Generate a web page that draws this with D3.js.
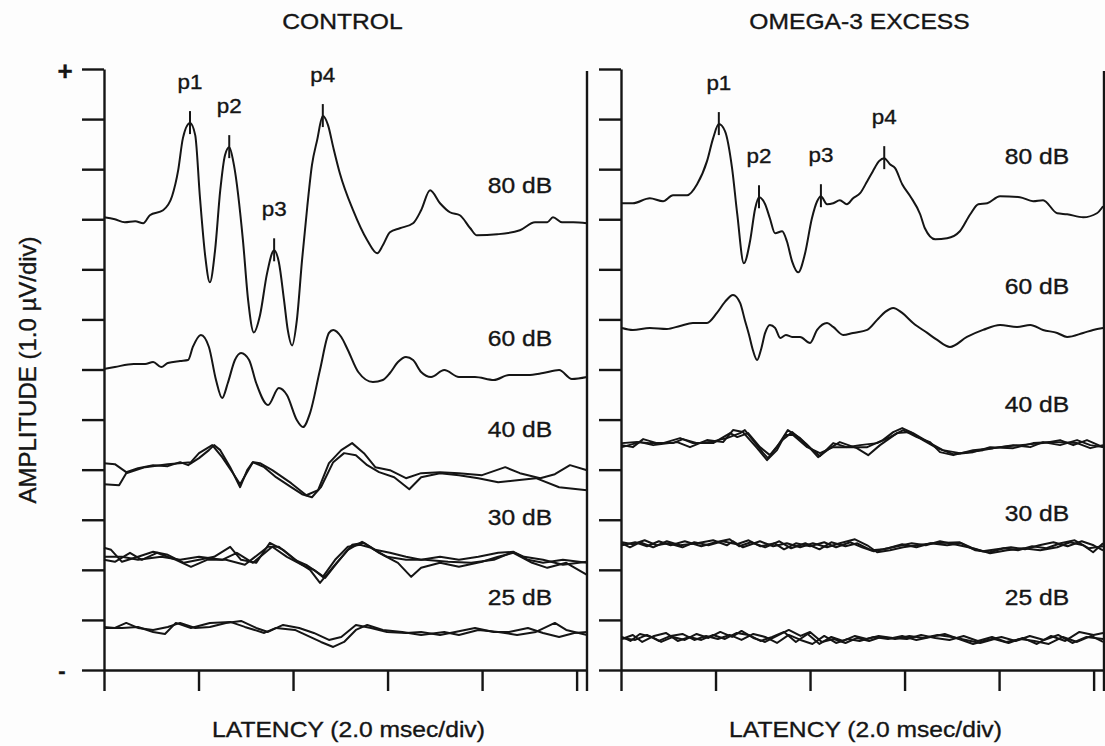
<!DOCTYPE html>
<html>
<head>
<meta charset="utf-8">
<script src="https://cdn.jsdelivr.net/npm/d3@7"></script>
<style>
  body { margin: 0; background: #fdfdfd; }
  text { font-family: "Liberation Sans", Arial, Helvetica, sans-serif; fill: #151515; stroke: #151515; stroke-width: 0.35px; }
</style>
</head>
<body>
<div id="chart"></div>
<script>
// latency (ms) vs amplitude (uV, relative to each trace's own baseline)
var levels = ["80 dB", "60 dB", "40 dB", "30 dB", "25 dB"];
var ctlOffsets = [9.0, 6.05, 4.05, 2.24, 0.84];
var omgOffsets = [9.36, 6.83, 4.49, 2.51, 0.64];
var ctlLabelY = [9.52, 6.47, 4.65, 2.89, 1.30];
var omgLabelY = [10.10, 7.50, 5.15, 2.97, 1.30];

var peakNames = ["p1", "p2", "p3", "p4"];
var ctlPeaks = [1.82, 2.65, 3.60, 4.63];
var omgPeaks = [2.07, 2.92, 4.23, 5.57];

var xTicks = [0, 2, 4, 6, 8, 10];
var yTicks = d3.range(0, 13);

var ctl80 = [[0,0.04],[0.23,0],[0.44,-0.06],[0.66,-0.04],[0.83,-0.08],[0.97,0.08],[1.25,0.18],[1.44,0.46],[1.57,0.98],[1.67,1.62],[1.82,1.92],[1.93,1.68],[2.03,0.44],[2.14,-0.72],[2.24,-1.26],[2.35,-0.62],[2.46,0.58],[2.56,1.28],[2.65,1.44],[2.75,1.08],[2.94,-0.42],[3.05,-1.62],[3.17,-2.26],[3.30,-1.92],[3.45,-1.08],[3.60,-0.62],[3.70,-0.86],[3.81,-1.62],[3.89,-2.22],[3.98,-2.52],[4.08,-2.02],[4.19,-0.82],[4.30,0.24],[4.40,1.08],[4.51,1.58],[4.63,2.06],[4.74,1.88],[4.85,1.44],[4.99,0.92],[5.27,0.18],[5.57,-0.42],[5.78,-0.68],[5.90,-0.52],[6.05,-0.26],[6.26,-0.18],[6.54,-0.08],[6.71,0.18],[6.90,0.58],[7.11,0.32],[7.32,0.14],[7.53,0.08],[7.75,-0.18],[7.89,-0.32],[8.32,-0.30],[8.80,-0.22],[9.12,-0.06],[9.38,-0.06],[9.50,0.04],[9.69,-0.06],[9.93,-0.06],[10.22,-0.08]];

var ctl60 = [[0,-0.04],[0.23,0],[0.63,0.06],[0.87,0.06],[1.04,0.10],[1.21,0],[1.35,0.08],[1.61,0.12],[1.78,0.14],[1.88,0.40],[2.05,0.64],[2.22,0.40],[2.37,-0.26],[2.50,-0.62],[2.62,-0.32],[2.77,0.14],[2.90,0.28],[3.07,0.14],[3.22,-0.32],[3.47,-0.76],[3.70,-0.42],[3.87,-0.56],[4.08,-1.06],[4.21,-1.20],[4.36,-0.92],[4.57,-0.06],[4.76,0.68],[4.85,0.74],[5.02,0.60],[5.16,0.34],[5.38,-0.10],[5.69,-0.30],[5.90,-0.26],[6.05,-0.12],[6.22,0.10],[6.39,0.20],[6.54,0.14],[6.71,-0.10],[6.92,-0.20],[7.20,-0.06],[7.51,-0.20],[7.85,-0.20],[8.25,-0.26],[8.57,-0.16],[8.97,-0.16],[9.29,-0.12],[9.63,-0.06],[9.90,-0.24],[10.22,-0.20]];

var ctl40 = [
  [[0,0.08],[0.23,0.06],[0.47,-0.10],[0.72,-0.02],[1.04,0.04],[1.35,0.02],[1.61,0.10],[1.78,0.04],[2.01,0.18],[2.22,0.34],[2.33,0.44],[2.46,0.34],[2.67,0],[2.88,-0.40],[3.03,-0.06],[3.15,0.10],[3.39,0],[3.64,-0.20],[3.96,-0.40],[4.19,-0.54],[4.40,-0.60],[4.59,-0.40],[4.85,0.10],[5.08,0.28],[5.33,0.24],[5.57,0.04],[5.82,-0.10],[6.14,-0.20],[6.46,-0.44],[6.71,-0.20],[7.11,-0.12],[7.51,-0.16],[7.92,-0.22],[8.34,-0.30],[8.74,-0.26],[9.14,-0.22],[9.63,-0.40],[10.22,-0.46]],
  [[0,-0.34],[0.32,-0.36],[0.47,-0.12],[0.87,0],[1.35,0.06],[1.84,0.10],[2.01,0.28],[2.29,0.44],[2.50,0.20],[2.73,-0.12],[2.88,-0.34],[3.15,0.10],[3.30,0.08],[3.56,-0.06],[3.96,-0.32],[4.28,-0.56],[4.53,-0.46],[4.76,0.08],[5.02,0.34],[5.25,0.48],[5.50,0.28],[5.74,0],[6.05,-0.06],[6.39,-0.22],[6.71,-0.12],[7.11,-0.10],[7.51,-0.12],[8.00,-0.16],[8.49,0],[8.80,-0.12],[9.23,-0.22],[9.54,-0.14],[9.86,0.04],[10.22,-0.06]]
];

var ctl30 = [
  [[0,0.20],[0.15,0.16],[0.38,-0.08],[0.72,0.02],[1.04,0.12],[1.35,0.06],[1.69,-0.10],[2.01,-0.04],[2.33,0.02],[2.67,0.22],[2.90,-0.04],[3.22,-0.10],[3.51,0.30],[3.79,0.16],[4.13,-0.10],[4.36,-0.24],[4.57,-0.50],[4.85,-0.18],[5.16,0.16],[5.46,0.32],[5.74,0.16],[6.05,0.10],[6.39,0.02],[6.71,-0.04],[7.11,0.02],[7.51,-0.04],[7.92,0.02],[8.34,0.10],[8.66,0.12],[8.97,-0.04],[9.29,-0.10],[9.71,-0.04],[10.22,-0.10]],
  [[0,-0.04],[0.23,-0.08],[0.55,0.10],[0.80,-0.04],[1.12,0.10],[1.52,-0.04],[1.84,-0.18],[2.18,-0.04],[2.58,-0.04],[2.98,-0.14],[3.47,0.22],[3.70,0.22],[4.04,-0.04],[4.28,-0.14],[4.53,-0.30],[4.68,-0.40],[4.93,-0.10],[5.25,0.26],[5.50,0.30],[5.82,0.10],[6.22,-0.10],[6.50,-0.38],[6.71,-0.20],[7.11,-0.10],[7.51,-0.18],[8.00,-0.08],[8.34,0.02],[8.66,0.10],[9.06,-0.10],[9.38,-0.20],[9.78,-0.10],[10.22,-0.34]],
  [[0,0.02],[0.38,0.02],[0.72,-0.04],[1.21,0.02],[1.61,-0.04],[2.01,0.02],[2.50,-0.04],[2.81,0.10],[3.15,-0.10],[3.56,0.22],[3.87,0.02],[4.19,-0.14],[4.44,-0.24],[4.63,-0.38],[4.89,-0.04],[5.16,0.22],[5.42,0.26],[5.65,0.20],[5.99,0.02],[6.39,-0.04],[6.79,-0.04],[7.28,-0.08],[7.77,-0.10],[8.25,-0.04],[8.66,0.12],[8.89,0.02],[9.29,-0.04],[9.71,-0.14],[10.22,-0.08]]
];

var ctl25 = [
  [[0,0.02],[0.23,0],[0.47,0.10],[0.72,0],[1.04,-0.04],[1.35,0.02],[1.61,0.10],[1.93,0],[2.24,0.02],[2.58,0.10],[2.90,0.14],[3.22,0],[3.47,-0.08],[3.79,0.06],[4.13,0],[4.44,-0.10],[4.76,-0.24],[5.02,-0.18],[5.33,0.06],[5.65,0],[5.99,-0.08],[6.39,-0.10],[6.71,-0.08],[7.11,-0.14],[7.43,-0.08],[7.85,0],[8.25,-0.08],[8.57,-0.08],[8.97,0],[9.29,-0.10],[9.63,-0.18],[9.95,-0.10],[10.22,-0.08]],
  [[0,0],[0.38,0],[0.72,0.02],[1.04,-0.08],[1.29,-0.12],[1.52,0.10],[1.84,0],[2.24,0.10],[2.67,0.12],[2.98,0.02],[3.39,-0.10],[3.64,0],[4.04,-0.04],[4.36,-0.18],[4.59,-0.28],[4.85,-0.38],[5.08,-0.28],[5.33,-0.04],[5.57,0.06],[5.90,-0.04],[6.31,-0.08],[6.71,-0.14],[7.20,-0.08],[7.51,-0.14],[7.92,-0.04],[8.34,-0.08],[8.74,-0.14],[9.14,-0.08],[9.54,0.10],[9.78,-0.04],[10.22,-0.14]]
];

var omg80 = [[0.02,-0.04],[0.25,-0.04],[0.61,0.06],[0.89,0],[1.10,0.12],[1.40,0.12],[1.61,0.34],[1.82,0.80],[1.95,1.26],[2.07,1.54],[2.20,1.40],[2.35,0.66],[2.46,-0.26],[2.60,-1.24],[2.73,-0.80],[2.84,-0.14],[2.92,0.08],[3.05,-0.06],[3.15,-0.34],[3.26,-0.64],[3.41,-0.60],[3.51,-0.80],[3.62,-1.20],[3.75,-1.42],[3.89,-1.06],[4.04,-0.34],[4.15,0],[4.23,0.10],[4.36,-0.06],[4.49,-0.04],[4.63,0.02],[4.78,-0.06],[4.91,0.06],[5.06,0.16],[5.21,0.40],[5.33,0.60],[5.46,0.80],[5.57,0.86],[5.69,0.74],[5.80,0.66],[5.95,0.34],[6.12,0.10],[6.33,-0.26],[6.43,-0.54],[6.65,-0.76],[6.90,-0.74],[7.17,-0.60],[7.39,-0.26],[7.56,-0.06],[7.75,-0.04],[8.02,0.10],[8.44,0.08],[8.72,0],[8.93,0.02],[9.23,-0.24],[9.44,-0.26],[9.78,-0.32],[10.07,-0.24],[10.20,-0.10]];

var omg60 = [[0.02,0],[0.25,-0.04],[0.61,0],[0.97,-0.02],[1.25,0.04],[1.52,0.10],[1.82,0.10],[2.03,0.30],[2.20,0.52],[2.37,0.66],[2.52,0.50],[2.62,0.16],[2.71,-0.14],[2.79,-0.44],[2.88,-0.64],[2.96,-0.44],[3.05,-0.10],[3.15,0.06],[3.26,0],[3.37,-0.20],[3.49,-0.14],[3.62,-0.18],[3.79,-0.18],[4.00,-0.30],[4.15,-0.04],[4.36,0.10],[4.49,0.02],[4.70,-0.14],[4.91,-0.10],[5.21,-0.04],[5.42,0.16],[5.59,0.32],[5.76,0.40],[5.95,0.30],[6.18,0.10],[6.48,-0.10],[6.69,-0.24],[6.96,-0.38],[7.32,-0.18],[7.66,-0.04],[8.02,0.06],[8.38,0.02],[8.66,0.06],[8.93,-0.04],[9.23,-0.10],[9.44,-0.18],[9.78,-0.10],[9.99,-0.04],[10.20,0]];

var omg40 = [
  [[0.02,0],[0.25,-0.04],[0.47,0.12],[0.76,0.04],[1.10,0.04],[1.31,0.12],[1.61,0.04],[1.88,0.06],[2.24,0.14],[2.52,0.24],[2.62,0.30],[2.79,0.10],[3.01,-0.16],[3.11,-0.26],[3.30,-0.04],[3.53,0.30],[3.79,0.14],[4.06,-0.10],[4.21,-0.22],[4.49,0.04],[4.78,-0.04],[5.21,-0.04],[5.54,0.10],[5.76,0.26],[5.95,0.34],[6.18,0.24],[6.54,0.04],[6.81,-0.10],[7.17,-0.16],[7.66,-0.10],[8.02,-0.04],[8.44,0],[8.93,0.04],[9.29,0.10],[9.57,0],[9.86,0.10],[10.20,-0.04]],
  [[0.02,0.04],[0.34,0.06],[0.61,0.04],[0.89,0.04],[1.25,0.14],[1.52,0.04],[1.95,0.04],[2.31,0.24],[2.46,0.16],[2.69,0.24],[2.94,-0.04],[3.15,-0.20],[3.41,0.10],[3.62,0.26],[3.94,0],[4.17,-0.24],[4.42,-0.06],[4.63,0.06],[4.99,-0.06],[5.23,-0.20],[5.48,0],[5.84,0.24],[6.12,0.26],[6.39,0.10],[6.69,-0.06],[7.03,-0.18],[7.45,-0.14],[7.81,-0.04],[8.30,-0.06],[8.72,0.04],[9.14,0.06],[9.65,0.04],[9.93,-0.06],[10.20,0]],
  [[0.02,-0.04],[0.40,0.06],[0.68,0],[1.19,0.06],[1.46,-0.04],[1.82,0.10],[2.16,0.06],[2.37,0.30],[2.58,0.26],[2.88,-0.06],[3.09,-0.30],[3.30,-0.10],[3.47,0.20],[3.64,0.20],[3.94,-0.04],[4.21,-0.16],[4.49,-0.04],[4.78,-0.04],[5.06,0],[5.42,0.04],[5.69,0.16],[5.97,0.30],[6.26,0.16],[6.54,0.06],[6.75,-0.14],[7.03,-0.20],[7.45,-0.10],[7.87,-0.06],[8.30,0],[8.66,-0.04],[8.93,0.06],[9.29,0],[9.65,0.10],[9.93,0],[10.20,-0.04]]
];

var omg30 = [
  [[0.02,0.02],[0.19,-0.06],[0.40,0.04],[0.68,-0.06],[0.97,0.06],[1.25,-0.02],[1.61,0.02],[1.95,0.08],[2.24,-0.02],[2.37,0.06],[2.58,-0.06],[2.94,0.06],[3.22,-0.04],[3.51,0.02],[3.79,-0.06],[4.06,0.02],[4.36,-0.06],[4.63,0.02],[4.95,0.10],[5.21,-0.02],[5.42,-0.16],[5.69,-0.12],[5.97,-0.06],[6.26,-0.02],[6.60,0.02],[7.17,0.04],[7.45,-0.08],[7.81,-0.18],[8.17,-0.12],[8.51,-0.08],[8.87,-0.12],[9.23,-0.06],[9.50,0.04],[9.78,-0.02],[9.99,-0.16],[10.20,0.02]],
  [[0.02,-0.02],[0.30,0.04],[0.55,-0.04],[0.80,0.06],[1.05,-0.02],[1.35,0.06],[1.70,-0.04],[2.00,0.04],[2.30,0.10],[2.50,-0.04],[2.75,0.04],[3.05,-0.06],[3.35,0.06],[3.60,-0.08],[3.90,0.02],[4.20,-0.10],[4.45,0.04],[4.75,-0.04],[5.00,0.02],[5.30,-0.12],[5.55,-0.10],[5.85,-0.04],[6.15,0.02],[6.45,-0.02],[6.75,0.06],[7.05,0],[7.35,-0.06],[7.65,-0.14],[7.95,-0.10],[8.25,-0.06],[8.55,-0.10],[8.85,-0.02],[9.15,0.04],[9.45,-0.04],[9.75,0.06],[10.00,-0.02],[10.20,-0.12]],
  [[0.02,0.04],[0.25,0],[0.50,0.08],[0.75,-0.02],[1.00,0.02],[1.30,-0.06],[1.55,0.04],[1.85,-0.02],[2.15,0.06],[2.45,0],[2.70,0.08],[2.95,-0.04],[3.25,0.02],[3.45,-0.10],[3.70,0.02],[4.00,-0.04],[4.30,0.04],[4.55,-0.06],[4.85,0.04],[5.10,-0.06],[5.35,-0.14],[5.65,-0.08],[5.95,0],[6.25,-0.06],[6.55,0.02],[6.90,-0.02],[7.20,0.02],[7.50,-0.12],[7.80,-0.16],[8.10,-0.08],[8.40,-0.12],[8.70,-0.04],[9.00,-0.08],[9.30,0.02],[9.60,0.08],[9.90,-0.08],[10.20,-0.04]]
];

var omg25 = [
  [[0.02,0.02],[0.20,-0.06],[0.40,0.08],[0.65,0.02],[0.85,-0.08],[1.10,0.02],[1.35,-0.04],[1.60,0.08],[1.85,0],[2.10,0.12],[2.35,0.02],[2.55,0.14],[2.80,0],[3.05,-0.08],[3.30,0.04],[3.55,0.16],[3.80,0.04],[4.00,0.12],[4.25,-0.08],[4.50,-0.02],[4.75,-0.10],[5.00,0],[5.25,-0.06],[5.50,0.02],[5.80,-0.02],[6.10,0.04],[6.40,0],[6.70,0.06],[7.00,0.02],[7.30,-0.04],[7.60,-0.10],[7.90,-0.02],[8.20,-0.10],[8.50,0],[8.80,-0.12],[9.10,0.04],[9.40,-0.06],[9.70,0.12],[10.00,0.06],[10.20,0.10]],
  [[0.02,-0.02],[0.25,0.06],[0.45,-0.08],[0.70,0.04],[0.95,0.10],[1.20,-0.06],[1.45,0.02],[1.70,-0.04],[1.95,0.06],[2.20,-0.02],[2.45,0.10],[2.70,0.06],[2.95,-0.06],[3.20,0.02],[3.45,0.12],[3.70,-0.08],[3.95,0.08],[4.20,-0.12],[4.45,0.02],[4.70,-0.06],[4.95,0.04],[5.20,-0.02],[5.45,0.04],[5.75,0],[6.05,-0.02],[6.35,0.06],[6.65,0],[6.95,-0.04],[7.25,0.04],[7.55,-0.06],[7.85,0.02],[8.15,-0.08],[8.45,-0.02],[8.75,-0.06],[9.05,-0.12],[9.35,0.02],[9.65,-0.08],[9.95,0.04],[10.20,-0.08]],
  [[0.02,0],[0.30,-0.04],[0.55,0.06],[0.80,-0.06],[1.05,0.04],[1.30,0.08],[1.55,-0.04],[1.80,0.04],[2.05,-0.02],[2.30,0.06],[2.55,-0.04],[2.80,0.08],[3.05,0.02],[3.30,-0.10],[3.55,0.06],[3.80,-0.04],[4.05,-0.12],[4.30,0.04],[4.55,-0.10],[4.80,-0.02],[5.05,-0.06],[5.35,0.02],[5.65,-0.02],[5.95,0.04],[6.25,-0.04],[6.55,0.02],[6.85,0.08],[7.15,-0.02],[7.45,-0.12],[7.75,-0.04],[8.05,0.02],[8.35,-0.06],[8.65,0.04],[8.95,-0.04],[9.25,0.06],[9.55,-0.10],[9.85,0.02],[10.20,-0.02]]
];

var ctlTraces = [[ctl80], [ctl60], ctl40, ctl30, ctl25];
var omgTraces = [[omg80], [omg60], omg40, omg30, omg25];

var svgWidth = 1105, svgHeight = 746;
var plotW = 483, plotH = 601;
var xMax = 10.22;

var svg = d3.select("#chart").append("svg")
  .attr("width", svgWidth)
  .attr("height", svgHeight);

var x = d3.scaleLinear().domain([0, xMax]).range([0, plotW]);
var y = d3.scaleLinear().domain([0, 12]).range([plotH, 0]);

function addText(g, px, py, str, size, anchor) {
  g.append("text")
    .attr("transform", `translate(${px},${py}) scale(1.12,1)`)
    .attr("text-anchor", anchor || "middle")
    .attr("font-size", size)
    .text(str);
}

function drawPanel(left, traces, offsets, labelY, peaks, title) {
  var g = svg.append("g").attr("transform", `translate(${left}, 69)`);

  // amplitude axis, ticks pointing out
  var yAxis = d3.axisLeft(y).tickValues(yTicks).tickSize(22).tickSizeOuter(0).tickFormat("");
  g.append("g").call(yAxis);

  // latency axis, ticks downward
  var xAxis = d3.axisBottom(x).tickValues(xTicks).tickSize(21).tickSizeOuter(0).tickFormat("");
  g.append("g").attr("transform", `translate(0, ${plotH})`).call(xAxis);

  g.selectAll(".domain, .tick line")
    .attr("stroke", "#151515")
    .attr("stroke-width", 2.4);

  // right frame line
  g.append("line")
    .attr("x1", x(xMax)).attr("x2", x(xMax))
    .attr("y1", 2).attr("y2", plotH + 21)
    .attr("stroke", "#151515").attr("stroke-width", 2.4);

  traces.forEach(function(group, i) {
    // big responses drawn smooth, averaged low-level traces kept jagged
    var line = d3.line()
      .x(d => x(d[0]))
      .y(d => y(d[1] + offsets[i]))
      .curve(i < 2 ? d3.curveMonotoneX : d3.curveLinear);
    group.forEach(function(tr) {
      g.append("path")
        .datum(tr)
        .attr("fill", "none")
        .attr("stroke", "#151515")
        .attr("stroke-width", 2)
        .attr("stroke-linejoin", "round")
        .attr("d", line);
    });
    addText(g, x(8.8), y(labelY[i]), levels[i], 22);
  });

  // peak markers on the 80 dB trace
  var top = traces[0][0];
  peaks.forEach(function(t, k) {
    var pt = top.find(d => d[0] === t);
    var py = y(pt[1] + offsets[0]);
    g.append("line")
      .attr("x1", x(t)).attr("x2", x(t))
      .attr("y1", py - 12).attr("y2", py + 11)
      .attr("stroke", "#151515").attr("stroke-width", 2);
    addText(g, x(t), py - 34, peakNames[k], 20);
  });

  addText(svg, left + plotW / 2 - 3, 29, title, 22);
  addText(svg, left + plotW / 2 + 3, 737, "LATENCY (2.0 msec/div)", 22);
}

drawPanel(104, ctlTraces, ctlOffsets, ctlLabelY, ctlPeaks, "CONTROL");
drawPanel(621, omgTraces, omgOffsets, omgLabelY, omgPeaks, "OMEGA-3 EXCESS");

// y axis title and polarity marks
svg.append("text")
  .attr("transform", "translate(36, 370) rotate(-90)")
  .attr("text-anchor", "middle")
  .attr("font-size", 24)
  .text("AMPLITUDE (1.0 µV/div)");

svg.append("text")
  .attr("x", 65).attr("y", 80)
  .attr("text-anchor", "middle")
  .attr("font-size", 26)
  .attr("font-weight", "bold")
  .text("+");

svg.append("text")
  .attr("x", 62).attr("y", 678)
  .attr("text-anchor", "middle")
  .attr("font-size", 22)
  .attr("font-weight", "bold")
  .text("-");
</script>
</body>
</html>
